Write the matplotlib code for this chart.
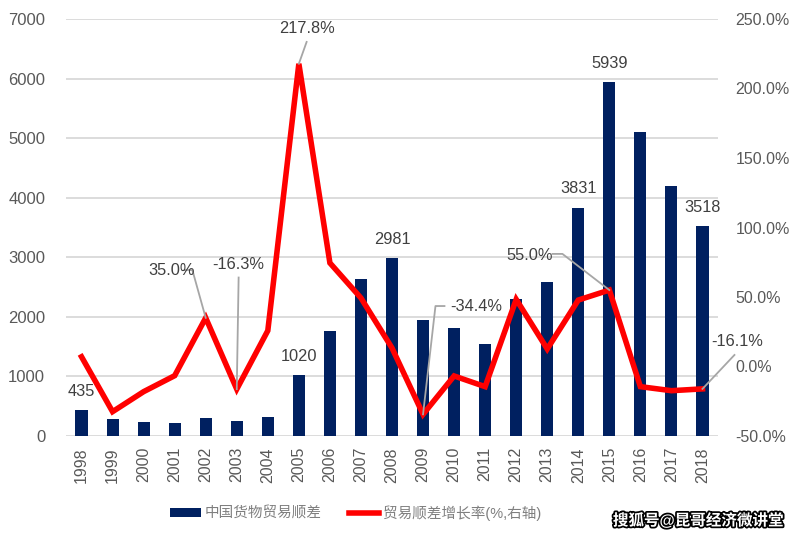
import matplotlib
matplotlib.use("Agg")
import matplotlib.pyplot as plt
import matplotlib.patheffects as pe
from matplotlib.ticker import FuncFormatter

plt.rcParams['font.family'] = ['Liberation Sans', 'Noto Sans CJK SC', 'DejaVu Sans']

years = [str(y) for y in range(1998, 2019)]
surplus = [435, 285, 235, 218, 300, 252, 320, 1020, 1760, 2634, 2981,
           1946, 1812, 1544, 2300, 2584, 3831, 5939, 5100, 4195, 3518]
growth = [7.0, -32.5, -18.1, -6.6, 35.0, -16.3, 25.8, 217.8, 74.5, 49.3, 13.3,
          -34.4, -6.8, -14.5, 48.3, 12.6, 47.8, 55.0, -14.5, -17.4, -16.1]

bar_labels = {0: "435", 7: "1020", 10: "2981", 16: "3831", 17: "5939", 20: "3518"}
# index -> (label text, label centre on right axis, leader points from label to mark)
line_labels = {
    4: ("35.0%", (2.9, 69.4), [(3.32, 69.4), (3.57, 69.4)]),
    5: ("-16.3%", (5.06, 73.5), [(5.06, 64.0)]),
    7: ("217.8%", (7.25, 243.5), [(7.25, 233.5)]),
    11: ("-34.4%", (12.7, 43.5), [(11.69, 43.5), (11.4, 43.5)]),
    17: ("55.0%", (14.43, 79.5), [(15.17, 81.0), (15.49, 81.0)]),
    20: ("-16.1%", (21.13, 18.3), [(21.03, 8.3)]),
}

grey = "#595959"
fig = plt.figure(figsize=(7.98, 5.37), dpi=100)
ax = fig.add_axes([66 / 798, 1 - 436 / 537, 652 / 798, 417 / 537])
ax2 = ax.twinx()

x = range(len(years))
ax.bar(x, surplus, width=0.39, color="#002060", zorder=2, label="中国货物贸易顺差")
ax.set_ylim(0, 7000)
ax.set_yticks(range(0, 7001, 1000))
ax.set_xlim(-0.5, len(years) - 0.5)
ax.set_xticks(list(x))
ax.set_xticklabels(years, rotation=90, fontsize=11.5, color=grey)
ax.grid(axis="y", color="#d9d9d9", lw=1.3, zorder=0)
ax.set_axisbelow(True)
ax.tick_params(axis="y", length=0, labelsize=12, labelcolor=grey, pad=15)
ax.tick_params(axis="x", length=0, pad=8)
for s in ax.spines.values():
    s.set_visible(False)

for i, t in bar_labels.items():
    ax.text(i, surplus[i] + 320, t, ha="center", va="center",
            fontsize=11.8, color="#404040", zorder=5)

ax2.plot(list(x), growth, color="#ff0000", lw=4.0, solid_joinstyle="miter",
         zorder=3, label="贸易顺差增长率(%,右轴)")
ax2.set_ylim(-50, 250)
ax2.set_yticks(range(-50, 251, 50))
ax2.yaxis.set_major_formatter(FuncFormatter(lambda v, p: f"{v:.1f}%"))
ax2.tick_params(axis="y", length=0, labelsize=11.5, labelcolor=grey, pad=12.5)
for s in ax2.spines.values():
    s.set_visible(False)

for i, (t, pos, leader) in line_labels.items():
    xs = [p[0] for p in leader] + [i]
    ys = [p[1] for p in leader] + [growth[i]]
    ax2.plot(xs, ys, color="#a6a6a6", lw=1.3, zorder=4, clip_on=False)
    ax2.text(pos[0], pos[1], t, ha="center", va="center", fontsize=11.8,
             color="#404040", zorder=5, clip_on=False)

h1, l1 = ax.get_legend_handles_labels()
h2, l2 = ax2.get_legend_handles_labels()
leg = fig.legend(h1 + h2, l1 + l2, loc="center", bbox_to_anchor=(356 / 798, 1 - 513 / 537),
                 ncol=2, frameon=False, fontsize=10.5, handlelength=2.1,
                 handleheight=0.6, columnspacing=1.85, handletextpad=0.27)
for t in leg.get_texts():
    t.set_color("#7f7f7f")

fig.text(783 / 798, 1 - 520 / 537, "搜狐号@昆哥经济微讲堂", ha="right", va="center",
         fontsize=11.2, color="white", fontweight="bold",
         path_effects=[pe.withStroke(linewidth=2.5, foreground="black")])

fig.savefig("out.png", dpi=100)
